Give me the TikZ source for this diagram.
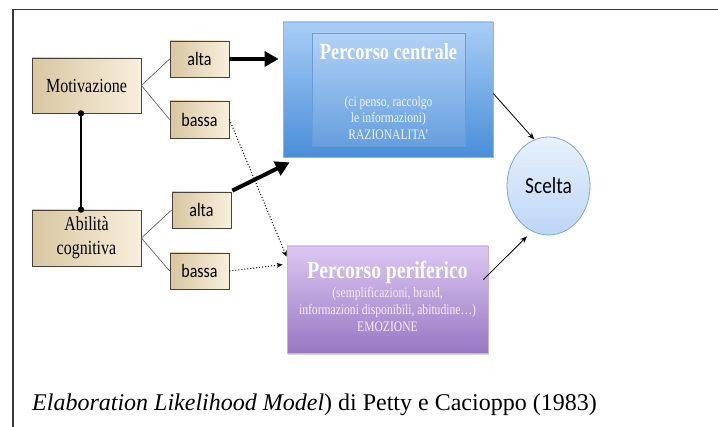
\documentclass[tikz,border=0pt]{standalone}
\usepackage{fontspec}
\usepackage{graphicx}
\setmainfont{Liberation Serif}
\newfontfamily\calfont{Carlito}
\usetikzlibrary{arrows.meta,calc,shadows,shapes.geometric}
\newcommand\hsq[1]{\scalebox{0.8}[1]{#1}}
\newcommand\hsqs[1]{\scalebox{0.84}[1]{#1}}
\definecolor{beigeL}{HTML}{D8C6A0}
\definecolor{beigeR}{HTML}{F8EFDD}
\definecolor{beigeB}{HTML}{4A4238}
\definecolor{blueT}{HTML}{A9CDF6}
\definecolor{blueB}{HTML}{4A8ED8}
\definecolor{blueE}{HTML}{8AB6EA}
\definecolor{innerE}{HTML}{6A9CD6}
\definecolor{purT}{HTML}{DCC8F3}
\definecolor{purB}{HTML}{9877C2}
\definecolor{purE}{HTML}{C9B3E4}
\definecolor{sceT}{HTML}{E9F1FC}
\definecolor{sceB}{HTML}{BCD6F6}
\definecolor{sceE}{HTML}{7AA7DC}
\definecolor{frameC}{HTML}{3A3A3A}
\tikzset{
  beigebox/.style={draw=beigeB, line width=0.8pt, left color=beigeL, right color=beigeR, inner sep=0pt, align=center},
  conn/.style={draw=gray!80!black, line width=0.7pt},
  bigarrow/.style={line width=4pt, -{Triangle[length=14pt,width=15pt]}},
  dotarrow/.style={line width=1pt, dotted, -{Stealth[length=6pt,width=5pt]}},
  thinarrow/.style={line width=0.8pt, -{Stealth[length=7pt,width=5.5pt]}},
  wtxt/.style={text=white, inner sep=0pt},
}
\begin{document}
\begin{tikzpicture}[x=1pt,y=-1pt]
\useasboundingbox (0,0) rectangle (718,427);
\fill[white] (0,0) rectangle (718,427);
% frame
\draw[frameC, line width=1.3pt] (13,430) -- (13,9.5) -- (720,9.5);

% left boxes
\node[beigebox, minimum width=109pt, minimum height=55pt] (mot) at (86.5,85.5)
  {\fontsize{20}{24}\selectfont\hsq{Motivazione}};
\node[beigebox, minimum width=109pt, minimum height=56pt] (abi) at (86.5,238)
  {\fontsize{20}{24}\selectfont\hsq{\begin{tabular}{@{}c@{}}Abilità\\cognitiva\end{tabular}}};

\node[beigebox, minimum width=59pt, minimum height=36pt] (alta1) at (199.5,59)
  {\calfont\fontsize{19}{22}\selectfont\hsqs{alta}};
\node[beigebox, minimum width=59pt, minimum height=37pt] (bassa1) at (199.5,119.5)
  {\calfont\fontsize{19}{22}\selectfont\hsqs{bassa}};
\node[beigebox, minimum width=59pt, minimum height=36pt] (alta2) at (201.5,210)
  {\calfont\fontsize{19}{22}\selectfont\hsqs{alta}};
\node[beigebox, minimum width=59pt, minimum height=36pt] (bassa2) at (199.5,271)
  {\calfont\fontsize{19}{22}\selectfont\hsqs{bassa}};

% blue box
\node[draw=blueE, line width=0.8pt, top color=blueT, bottom color=blueB,
      minimum width=210pt, minimum height=135pt, inner sep=0pt] (blue) at (388,89.5) {};
\node[draw=innerE, line width=0.8pt, top color=blueT!90!white, bottom color=blueB!85!white,
      drop shadow={shadow xshift=1pt, shadow yshift=-2pt, opacity=0.35},
      minimum width=153pt, minimum height=113pt, inner sep=0pt] (inner) at (388.5,89.5) {};
\node[wtxt] (ctitle) at (388.5,52)
  {\fontsize{23}{26}\selectfont\bfseries\hsq{Percorso centrale}};
\node[wtxt, text=white!95!blue] (csub) at (388.5,119.5)
  {\fontsize{14.5}{16.5}\selectfont\hsq{\begin{tabular}{@{}c@{}}(ci penso, raccolgo\\le informazioni)\\RAZIONALITA’\end{tabular}}};

% purple box
\node[draw=purE, line width=0.8pt, top color=purT, bottom color=purB,
      drop shadow={shadow xshift=1pt, shadow yshift=-2pt, opacity=0.35},
      minimum width=201pt, minimum height=107pt, inner sep=0pt] (purple) at (387.5,299.5) {};
\node[wtxt] (ptitle) at (387.5,272)
  {\fontsize{24.5}{27}\selectfont\bfseries\hsq{Percorso periferico}};
\node[wtxt, text=white!92!purple] (psub) at (387.5,311)
  {\fontsize{14.5}{17}\selectfont\hsq{\begin{tabular}{@{}c@{}}(semplificazioni, brand,\\informazioni disponibili, abitudine…)\\EMOZIONE\end{tabular}}};

% Scelta
\node[draw=sceE, line width=0.8pt, top color=sceT, bottom color=sceB,
      ellipse, minimum width=83pt, minimum height=98pt, inner sep=0pt] (scelta) at (548.5,186)
  {\calfont\fontsize{23}{26}\selectfont\hsqs{Scelta}};

% connectors
\draw[conn] (mot.east) -- (alta1.west);
\draw[conn] (mot.east) -- (bassa1.west);
\draw[conn] (abi.east) -- (alta2.west);
\draw[conn] (abi.east) -- (bassa2.west);

\coordinate (vx) at (81,0);
\draw[line width=2pt] (mot.south -| vx) -- (abi.north -| vx);
\fill (mot.south -| vx) circle (3.2pt);
\fill (abi.north -| vx) circle (3.2pt);

\draw[bigarrow] (alta1.east) -- ($(blue.west |- alta1.east)+(-4,0)$);
\draw[bigarrow] ($(alta2.north east)+(1,-1)$) -- ($(blue.south west)+(7,5)$);

\draw[dotarrow] (bassa1.east) -- ($(purple.north west)+(0,11)$);
\draw[dotarrow] (bassa2.east) -- ($(purple.north west)+(-4,19)$);

\draw[thinarrow] ($(blue.north east)+(0,72)$) -- (scelta.107);
\draw[thinarrow, shorten >=7pt] ($(purple.north east)+(-5,34)$) -- (scelta.250);

% caption
\node[anchor=base west, inner sep=0pt] (cap) at (32,411)
  {\fontsize{24}{28}\selectfont\textit{Elaboration Likelihood Model}) di Petty e Cacioppo (1983)};
\end{tikzpicture}
\end{document}
